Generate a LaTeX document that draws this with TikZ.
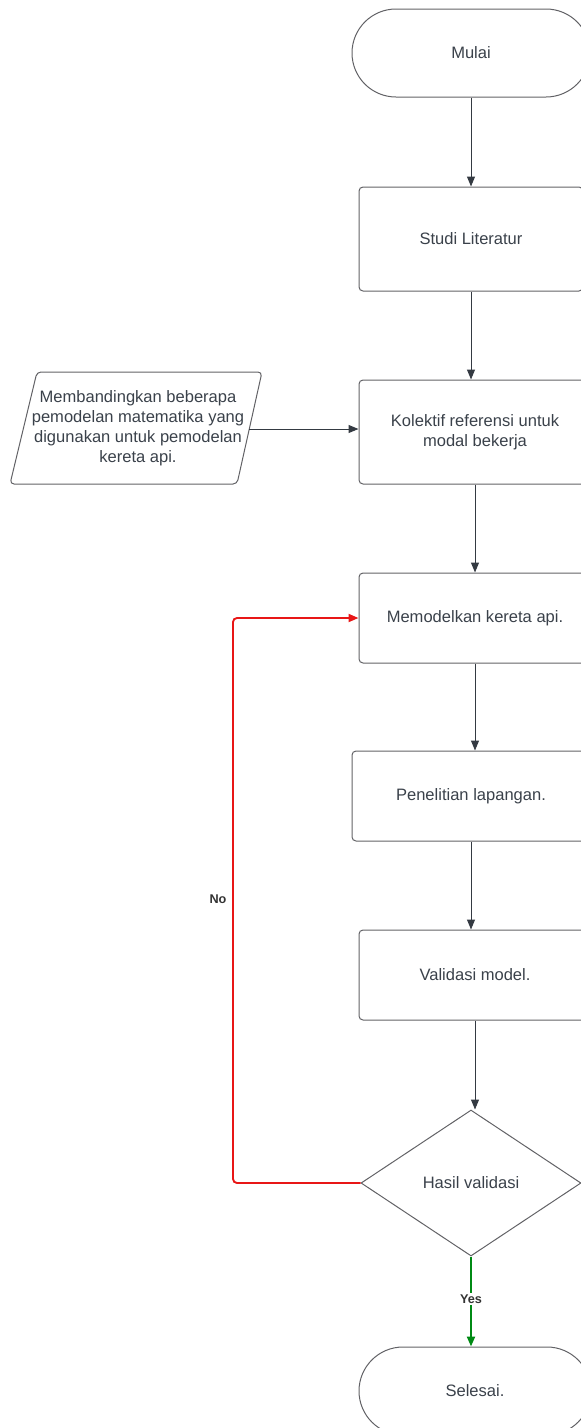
\documentclass[tikz,border=0pt]{standalone}
\usepackage{fontspec}
\setmainfont{Liberation Sans}
\usetikzlibrary{shapes.geometric,arrows.meta}
\definecolor{lineborder}{RGB}{98,98,102}
\definecolor{textgray}{RGB}{58,65,74}
\definecolor{arrowgray}{RGB}{52,58,66}
\definecolor{noRed}{RGB}{232,22,22}
\definecolor{yesGreen}{RGB}{0,138,20}
\tikzset{
  terminal/.style={draw=lineborder,line width=0.75pt,rectangle,rounded corners=33pt,minimum height=66pt,text=textgray,font=\fontsize{12.4}{15}\selectfont},
  process/.style={draw=lineborder,line width=0.75pt,rectangle,rounded corners=3pt,text=textgray,align=center,font=\fontsize{12.4}{15}\selectfont},
  decision/.style={draw=lineborder,line width=0.75pt,diamond,inner sep=0pt,minimum width=165pt,minimum height=109.5pt,text=textgray,font=\fontsize{12.4}{15}\selectfont},
  flow/.style={draw=arrowgray,line width=0.75pt,-{Triangle[length=7.5pt,width=6pt]}},
  nopath/.style={draw=noRed,line width=1.4pt,rounded corners=3pt,-{Triangle[length=7.5pt,width=6pt]}},
  yespath/.style={draw=yesGreen,line width=1.6pt,-{Triangle[length=7.5pt,width=6pt]}},
  answer/.style={text=black!80,font=\fontsize{9.5}{11}\selectfont\bfseries}
}
\begin{document}
\begin{tikzpicture}[x=0.75pt,y=-0.75pt]
\useasboundingbox (0,0) rectangle (581,1428);
\node[terminal,minimum width=178.5pt] (mulai) at (471,53) {Mulai};
\node[process,minimum width=168pt,minimum height=78pt] (studi) at (471,239) {Studi Literatur};
\node[process,minimum width=174pt,minimum height=78pt] (kolektif) at (475,432) {Kolektif referensi untuk\\modal bekerja};
\node[align=center,text=textgray,font=\fontsize{12.4}{15}\selectfont] (banding) at (138,428) {Membandingkan beberapa\\pemodelan matematika yang\\digunakan untuk pemodelan\\kereta api.};
\draw[draw=lineborder,line width=0.75pt,rounded corners=3pt] (37,372) -- (262,372) -- (237,484) -- (10,484) -- cycle;
\coordinate (bandingout) at (249,429);
\node[process,minimum width=174pt,minimum height=67.5pt] (model) at (475,618) {Memodelkan kereta api.};
\node[process,minimum width=178.5pt,minimum height=67.5pt] (lapangan) at (471,796) {Penelitian lapangan.};
\node[process,minimum width=174pt,minimum height=67.5pt] (validasi) at (475,975) {Validasi model.};
\node[decision] (hasil) at (471,1183) {Hasil validasi};
\node[terminal,minimum width=174pt] (selesai) at (475,1391) {Selesai.};
\coordinate (balik) at (233,618);
\path[flow] (mulai.south) -- (mulai.south |- studi.north);
\path[flow] (studi.south) -- (studi.south |- kolektif.north);
\path[flow] (bandingout) -- (bandingout -| kolektif.west);
\path[flow] (kolektif.south) -- (kolektif.south |- model.north);
\path[flow] (model.south) -- (model.south |- lapangan.north);
\path[flow] (lapangan.south) -- (lapangan.south |- validasi.north);
\path[flow] (validasi.south) -- (validasi.south |- hasil.north);
\path[nopath] (hasil.west) -| (balik) -- (model.west);
\path[yespath] (hasil.south) -- (hasil.south |- selesai.north);
\node[answer] (no) at (218,899) {No};
\node[answer,fill=white,inner sep=1.5pt] (yes) at (471,1299) {Yes};
\end{tikzpicture}
\end{document}
